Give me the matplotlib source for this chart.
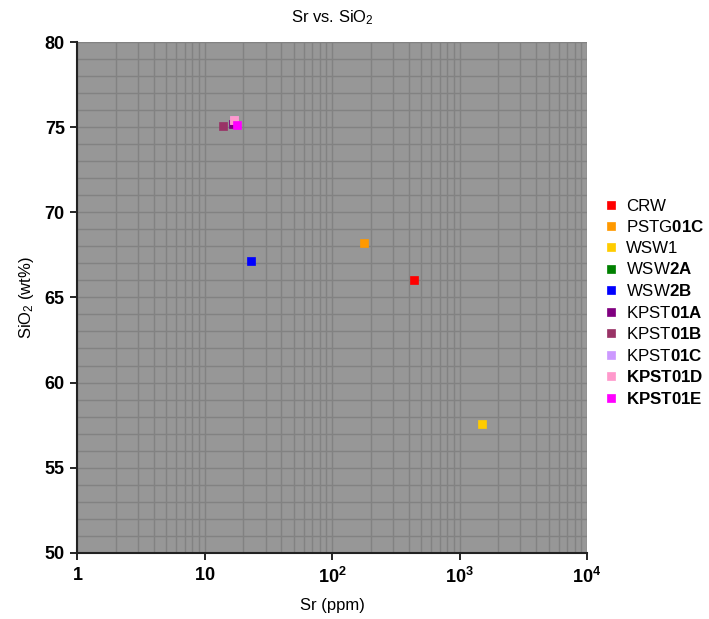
import numpy as np
import matplotlib
matplotlib.use("Agg")
import matplotlib.pyplot as plt
from matplotlib.ticker import FixedLocator, FixedFormatter, LogLocator, MultipleLocator, NullFormatter

plt.rcParams['font.family'] = ['Liberation Sans', 'DejaVu Sans']
plt.rcParams['mathtext.fontset'] = 'custom'
plt.rcParams['mathtext.rm'] = 'Liberation Sans'
plt.rcParams['mathtext.it'] = 'Liberation Sans:italic'
plt.rcParams['mathtext.bf'] = 'Liberation Sans:bold'

# Data
samples = ["CRW", "PSTG01C", "WSW1", "WSW2A", "WSW2B",
           "KPST01A", "KPST01B", "KPST01C", "KPST01D", "KPST01E"]
legend_labels = ["CRW", r"PSTG$\mathbf{01C}$", "WSW1", r"WSW$\mathbf{2A}$", r"WSW$\mathbf{2B}$",
                 r"KPST$\mathbf{01A}$", r"KPST$\mathbf{01B}$", r"KPST$\mathbf{01C}$",
                 r"$\mathbf{KPST01D}$", r"$\mathbf{KPST01E}$"]
sr = [436, 177, 1510, np.nan, 23.1, 16.8, 13.8, 16.9, 16.9, 18.0]
sio2 = [66.05, 68.22, 57.55, np.nan, 67.15, 75.17, 75.06, 75.41, 75.41, 75.12]
colors = ["#ff0000", "#ff9900", "#ffcc00", "#008000", "#0000ff",
          "#800080", "#993366", "#cc99ff", "#ff99cc", "#ff00ff"]

x_ticks = [1, 10, 100, 1000, 10000]
x_ticklabels = [r"$\mathbf{1}$", r"$\mathbf{10}$", r"$\mathbf{10^{2}}$", r"$\mathbf{10^{3}}$", r"$\mathbf{10^{4}}$"]
y_ticks = [50, 55, 60, 65, 70, 75, 80]

fig = plt.figure(figsize=(7.09, 6.19), dpi=100)
ax = fig.add_axes([0.109, 0.107, 0.719, 0.825])
ax.set_facecolor("#979797")

for name, lab, x, y, c in zip(samples, legend_labels, sr, sio2, colors):
    ax.plot([x], [y], linestyle="none", marker="s", markersize=5.2,
            markerfacecolor=c, markeredgecolor=c, markeredgewidth=0.5, label=lab)

ax.set_xscale("log")
ax.set_xlim(1, 10000)
ax.set_ylim(50, 80)

ax.xaxis.set_major_locator(FixedLocator(x_ticks))
ax.xaxis.set_major_formatter(FixedFormatter(x_ticklabels))
ax.xaxis.set_minor_locator(LogLocator(base=10, subs=np.arange(2, 10), numticks=20))
ax.xaxis.set_minor_formatter(NullFormatter())
ax.yaxis.set_major_locator(FixedLocator(y_ticks))
ax.yaxis.set_minor_locator(MultipleLocator(1))

ax.grid(True, which="both", color="#828282", linewidth=1.0)
ax.set_axisbelow(True)
ax.tick_params(axis="x", which="minor", length=0)
ax.tick_params(axis="y", which="minor", length=0)
ax.tick_params(axis="both", which="major", direction="out", length=5, width=1.2,
               labelsize=13, colors="black")
for lbl in ax.get_yticklabels():
    lbl.set_fontweight("bold")
ax.tick_params(axis="x", which="major", pad=5)
ax.tick_params(axis="y", which="major", pad=4)

for s in ["top", "right"]:
    ax.spines[s].set_visible(False)
for s in ["left", "bottom"]:
    ax.spines[s].set_linewidth(1.5)
    ax.spines[s].set_color("#222222")

ax.set_xlabel("Sr (ppm)", fontsize=12)
ax.xaxis.set_label_coords(0.5, -0.088)
ax.set_ylabel(r"SiO$_2$ (wt%)", fontsize=12)
ax.yaxis.set_label_coords(-0.08, 0.5)
ax.set_title(r"Sr vs. SiO$_2$", fontsize=12, pad=14)

leg = fig.legend(loc="upper left", bbox_to_anchor=(0.845, 0.69), frameon=False,
                 fontsize=12.2, handlelength=0.6, handletextpad=0.6, labelspacing=0.33,
                 borderaxespad=0)

fig.savefig("out.png", dpi=100)
